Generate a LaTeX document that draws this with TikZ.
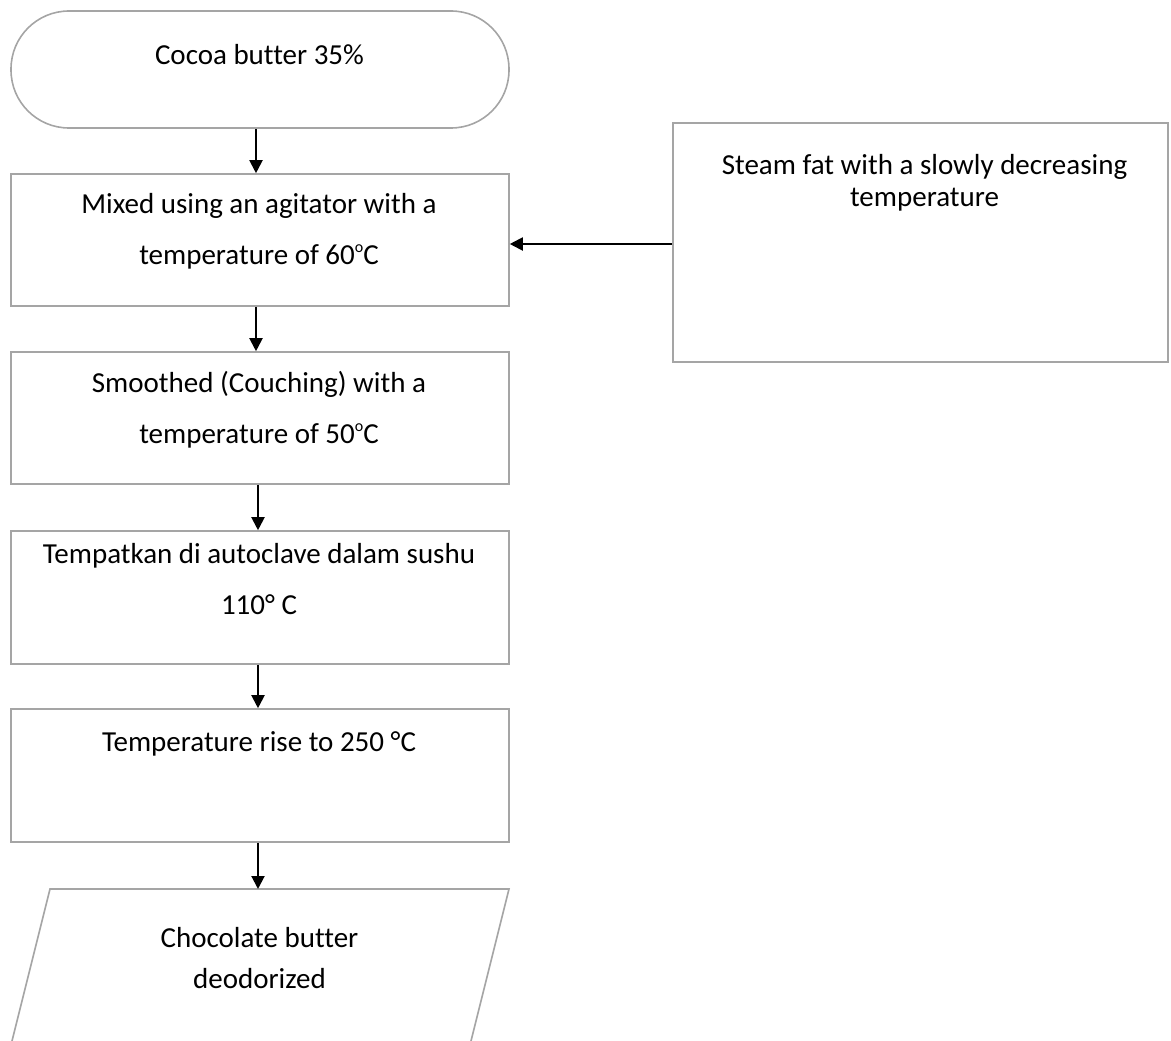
\documentclass[tikz,border=0pt]{standalone}
\usepackage{fontspec}
\setmainfont[Ligatures=NoCommon]{Carlito}
\usetikzlibrary{arrows.meta}
\definecolor{boxgray}{RGB}{165,165,165}
\newcommand{\supo}{\raisebox{0.85ex}{\fontsize{16}{16}\selectfont o}}
\begin{document}
\begin{tikzpicture}[x=1pt,y=-1pt,
  shapebox/.style={draw=boxgray, line width=1.6pt, inner sep=0pt},
  txt/.style={font=\fontsize{29}{35}\selectfont, anchor=base, inner sep=0pt},
  flow/.style={draw=black, line width=2pt, -{Triangle[length=13pt,width=13pt]}}]
\useasboundingbox (0,0) rectangle (1171,1041);
\clip (0,0) rectangle (1171,1041);
% shapes
\node[shapebox, rounded corners=58pt, minimum width=498pt, minimum height=117pt] (start) at (260,69.5) {};
\node[shapebox, minimum width=498pt, minimum height=132pt] (mix) at (260,240) {};
\node[shapebox, minimum width=498pt, minimum height=132pt] (smooth) at (260,418) {};
\node[shapebox, minimum width=498pt, minimum height=133pt] (auto) at (260,597.5) {};
\node[shapebox, minimum width=498pt, minimum height=133pt] (rise) at (260,775.5) {};
\node[shapebox, minimum width=495pt, minimum height=239pt] (steam) at (920.5,242.5) {};
\coordinate (p1) at (50,889);
\coordinate (p2) at (509,889);
\coordinate (p3) at (470,1045);
\coordinate (p4) at (11,1045);
\coordinate (ptop) at (258,889);
\draw[draw=boxgray, line width=1.6pt] (p1) -- (p2) -- (p3) -- (p4) -- cycle;
% texts
\node[txt] (t1) at (259.5,65) {Cocoa butter 35\%};
\node[txt] (t2a) at (259,213) {Mixed using an agitator with a};
\node[txt] (t2b) at (259,264) {temperature of 60\supo C};
\node[txt] (t3a) at (259,392) {Smoothed (Couching) with a};
\node[txt] (t3b) at (259,443) {temperature of 50\supo C};
\node[txt] (t4a) at (259,563) {Tempatkan di autoclave dalam sushu};
\node[txt] (t4b) at (259,614) {110° C};
\node[txt] (t5) at (259,751) {Temperature rise to 250 °C};
\node[txt] (t6a) at (259.5,947) {Chocolate butter};
\node[txt] (t6b) at (259.5,988) {deodorized};
\node[txt] (t7a) at (924.5,174) {Steam fat with a slowly decreasing};
\node[txt] (t7b) at (924.5,206) {temperature};
% connectors
\draw[flow] ([xshift=-4pt]start.south) -- ([xshift=-4pt]mix.north);
\draw[flow] ([xshift=-4pt]mix.south) -- ([xshift=-4pt]smooth.north);
\draw[flow] ([xshift=-2pt]smooth.south) -- ([xshift=-2pt]auto.north);
\draw[flow] ([xshift=-2pt]auto.south) -- ([xshift=-2pt]rise.north);
\draw[flow] ([xshift=-2pt]rise.south) -- (ptop);
\draw[flow] ([yshift=-1.5pt]steam.west) -- ([yshift=-1.5pt]steam.west -| mix.east);
\end{tikzpicture}
\end{document}
